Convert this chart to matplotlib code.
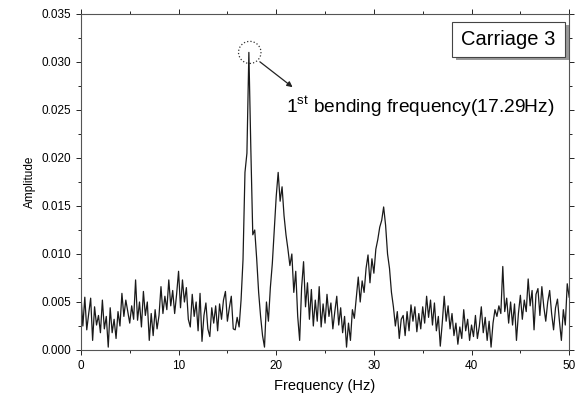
import numpy as np
import matplotlib
matplotlib.use("Agg")
import matplotlib.pyplot as plt
from matplotlib.patches import Ellipse, Rectangle
from matplotlib.ticker import MultipleLocator

plt.rcParams['font.family'] = ['Liberation Sans', 'DejaVu Sans']

# frequency axis: 0 .. 50 Hz, 0.2 Hz step
freq = np.round(np.arange(0, 50.01, 0.2), 1)

# amplitude, in units of 1e-3, five samples per Hz
amp_milli = [
    5.8, 2.5, 5.5, 2.1, 3.8,   # 0
    5.4, 1.0, 4.5, 2.6, 3.6,   # 1
    1.8, 5.2, 2.2, 3.5, 0.3,   # 2
    4.4, 1.8, 3.2, 1.2, 4.0,   # 3
    2.5, 5.9, 3.5, 5.2, 4.0,   # 4
    2.8, 4.6, 3.2, 7.3, 3.1,   # 5
    5.0, 2.4, 6.1, 3.6, 5.0,   # 6
    1.0, 3.8, 1.5, 4.2, 2.2,   # 7
    3.6, 6.6, 3.8, 5.6, 4.2,   # 8
    7.3, 4.6, 6.2, 3.8, 5.8,   # 9
    8.2, 4.4, 7.3, 5.0, 6.5,   # 10
    3.2, 2.4, 5.8, 3.5, 5.0,   # 11
    2.0, 5.9, 0.9, 3.6, 4.9,   # 12
    2.2, 1.4, 4.4, 2.8, 4.6,   # 13
    2.0, 4.8, 3.2, 5.2, 6.1,   # 14
    3.0, 4.4, 5.6, 2.2, 2.1,   # 15
    3.4, 2.4, 5.2, 9.4, 18.5,  # 16
    20.5, 31.0, 21.0, 12.0, 12.5,  # 17
    9.5, 6.0, 3.5, 1.5, 0.3,   # 18
    5.0, 3.0, 6.5, 9.0, 12.5,  # 19
    16.0, 18.5, 15.5, 17.0, 14.0,  # 20
    12.0, 10.5, 8.8, 10.0, 6.0,  # 21
    8.2, 3.5, 1.0, 6.5, 9.2,   # 22
    4.5, 7.0, 3.2, 6.3, 2.5,   # 23
    5.2, 3.0, 6.6, 2.4, 4.8,   # 24
    2.8, 5.8, 3.5, 4.9, 2.2,   # 25
    4.0, 5.6, 2.6, 4.4, 1.8,   # 26
    3.5, 0.3, 2.8, 1.0, 4.2,   # 27
    3.3, 5.5, 7.6, 5.0, 7.2,   # 28
    6.0, 8.5, 9.9, 7.0, 9.5,   # 29
    8.0, 10.5, 11.5, 12.8, 13.5,  # 30
    14.9, 13.0, 10.0, 8.5, 6.0,  # 31
    4.5, 2.5, 4.0, 1.2, 3.2,   # 32
    3.6, 1.5, 4.0, 2.0, 4.7,   # 33
    3.0, 4.5, 1.9, 3.8, 2.2,   # 34
    4.5, 2.8, 5.6, 3.4, 5.2,   # 35
    2.6, 4.9, 2.0, 3.5, 0.4,   # 36
    2.8, 5.6, 3.0, 4.6, 2.2,   # 37
    3.8, 1.5, 2.8, 0.6, 2.4,   # 38
    1.2, 4.2, 2.0, 3.2, 1.0,   # 39
    2.6, 1.4, 3.6, 1.2, 2.5,   # 40
    4.5, 1.8, 3.4, 1.0, 3.0,   # 41
    0.3, 2.8, 4.2, 3.5, 4.6,   # 42
    3.8, 8.7, 4.0, 5.4, 2.8,   # 43
    5.0, 2.6, 4.8, 1.0, 3.8,   # 44
    5.7, 3.2, 5.2, 4.0, 7.4,   # 45
    4.6, 6.2, 2.1, 5.8, 6.4,   # 46
    3.6, 6.6, 4.5, 3.0, 5.0,   # 47
    6.2, 3.8, 2.1, 4.4, 5.3,   # 48
    3.0, 1.0, 4.2, 2.6, 6.9,   # 49
    5.5,                       # 50
]
amp = np.array(amp_milli) / 1000.0

peak_freq = 17.29
peak_amp = 0.031
box_label = "Carriage 3"
peak_label = "1$^{\\mathregular{st}}$ bending frequency(17.29Hz)"

fig = plt.figure(figsize=(5.82, 4.0), dpi=100)
ax = fig.add_axes([0.139, 0.125, 0.839, 0.84])

ax.plot(freq, amp, color='#1a1a1a', lw=0.9)

ax.set_xlim(0, 50)
ax.set_ylim(0, 0.035)
ax.xaxis.set_major_locator(MultipleLocator(10))
ax.xaxis.set_minor_locator(MultipleLocator(5))
ax.yaxis.set_major_locator(MultipleLocator(0.005))
ax.yaxis.set_minor_locator(MultipleLocator(0.0025))
ax.yaxis.set_major_formatter(matplotlib.ticker.FormatStrFormatter('%.3f'))
ax.tick_params(which='both', labelsize=8.5, width=0.6, top=True, right=True)
ax.tick_params(which='major', length=3.5)
ax.tick_params(which='minor', length=2)
for s in ax.spines.values():
    s.set_linewidth(0.8)
    s.set_color('#555555')

ax.set_xlabel('Frequency (Hz)', fontsize=10.5, labelpad=5)
ax.set_ylabel('Amplitude', fontsize=8.5)

# dotted circle around the peak and arrow to the label
ax.add_patch(Ellipse((peak_freq, peak_amp), 2.3, 0.0023, fill=False,
                     ls=':', lw=0.9, color='#333333'))
ax.annotate('', xy=(21.9, 0.0272), xytext=(18.1, 0.0302),
            arrowprops=dict(arrowstyle='-|>', color='#222222', lw=0.9,
                            mutation_scale=8))
ax.text(21.0, 0.0253, peak_label, fontsize=13.8, va='center', ha='left')

# boxed label with drop shadow
ax.add_patch(Rectangle((0.768, 0.862), 0.232, 0.104, transform=ax.transAxes,
                       facecolor='#9a9a9a', edgecolor='none', clip_on=False))
ax.add_patch(Rectangle((0.760, 0.872), 0.232, 0.104, transform=ax.transAxes,
                       facecolor='white', edgecolor='#444444', lw=0.8,
                       clip_on=False))
ax.text(0.876, 0.924, box_label, transform=ax.transAxes, fontsize=14.5,
        ha='center', va='center')

fig.savefig('out.png', dpi=100)
